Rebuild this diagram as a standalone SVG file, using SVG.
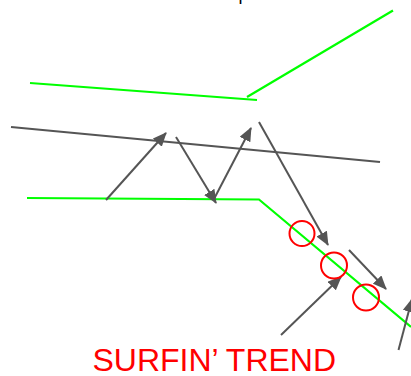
<svg xmlns="http://www.w3.org/2000/svg" width="411" height="376" viewBox="0 0 411 376">
<style>
.g{stroke:#00ff00;stroke-width:2.2;fill:none}
.k{stroke:#555;stroke-width:2;fill:none}
.a{stroke:#555;stroke-width:2;fill:none;marker-end:url(#ah)}
.c{stroke:#ff0000;stroke-width:2;fill:none}
.t{font-family:"Liberation Sans",Arial,sans-serif;fill:#ff0000}
</style>
<defs>
<marker id="ah" markerUnits="userSpaceOnUse" markerWidth="14" markerHeight="12" refX="13" refY="6" orient="auto">
<path d="M0,0 L14,6 L0,12 Z" fill="#555"/>
</marker>
</defs>
<text x="238.5" y="0" font-family="Liberation Sans,Arial,sans-serif" font-size="18" fill="#000">p</text>
<g id="lines">
<line class="g" x1="30" y1="83" x2="257" y2="100"/>
<line class="g" x1="247" y1="97" x2="393" y2="10.5"/>
<line class="k" x1="11" y1="127" x2="380" y2="162"/>
<polyline class="g" points="27,198 259,199.5 411,327"/>
</g>
<g id="connectors">
<line class="a" x1="106" y1="200" x2="166" y2="133"/>
<line class="a" x1="176" y1="137" x2="216" y2="203"/>
<line class="a" x1="214" y1="199" x2="251" y2="128"/>
<line class="a" x1="259" y1="122" x2="328" y2="245"/>
<line class="a" x1="349" y1="250" x2="386" y2="289"/>
<line class="a" x1="281" y1="335" x2="341" y2="277"/>
<line class="a" x1="398.5" y1="350" x2="412" y2="299"/>
</g>
<g id="circle1"><circle class="c" cx="302" cy="233.5" r="12.5"/></g>
<g id="circle2"><circle class="c" cx="334" cy="265.5" r="13"/></g>
<g id="circle3"><circle class="c" cx="366" cy="297.5" r="13"/></g>
<g id="label"><text class="t" x="92.5" y="371" font-size="32">SURFIN’ TREND</text></g>
</svg>
